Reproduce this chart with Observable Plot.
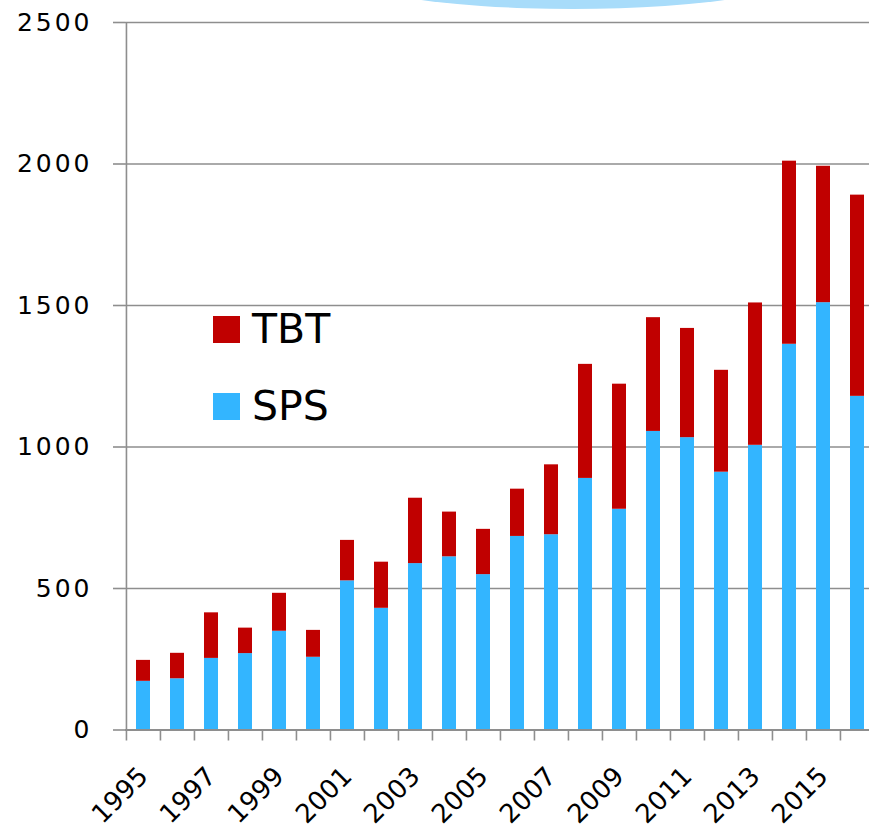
<!DOCTYPE html>
<html>
<head>
<meta charset="utf-8">
<script src="https://cdn.jsdelivr.net/npm/d3@7"></script>
<script src="https://cdn.jsdelivr.net/npm/@observablehq/plot@0.6"></script>
<style>
  html, body { margin: 0; padding: 0; background: #fff; }
  #wrap { position: relative; width: 869px; height: 832px; overflow: hidden; font-family: "DejaVu Sans", sans-serif; }
  #arc { position: absolute; left: 333px; top: -71px; width: 480px; height: 80px; border-radius: 50%; background: #a8dcfa; }
  #chart { position: absolute; left: 0; top: 0; }
  .lg { position: absolute; left: 213px; display: flex; align-items: center; font-size: 41px; color: #000; }
  .lg .sw { width: 27px; height: 27px; margin-right: 12px; }
  [aria-label="y-axis tick label"] text { letter-spacing: 3px; font-size: 25px; }
  [aria-label="x-axis tick label"] text { font-size: 26px; }
</style>
</head>
<body>
<div id="wrap">
  <div id="arc"></div>
  <div id="chart"></div>
  <div class="lg" id="lgTBT" style="top:305px"><div class="sw"></div><span></span></div>
  <div class="lg" id="lgSPS" style="top:382px"><div class="sw"></div><span></span></div>
</div>
<script>
const years = [1995,1996,1997,1998,1999,2000,2001,2002,2003,2004,2005,2006,2007,2008,2009,2010,2011,2012,2013,2014,2015,2016];
const sps = [172,181,253,270,349,257,527,430,588,612,549,684,690,889,780,1055,1033,911,1006,1363,1510,1179];
const tbt = [74,90,161,90,134,95,143,163,231,158,160,167,247,403,442,402,386,360,503,647,482,711];
const seriesNames = ["TBT", "SPS"];
const seriesColors = ["#c00000", "#33b5ff"];
const yTicks = [0, 500, 1000, 1500, 2000, 2500];
const labelYears = years.filter((d, i) => i % 2 === 0);

const rows = [];
years.forEach((y, i) => {
  rows.push({year: y, series: "SPS", value: sps[i]});
  rows.push({year: y, series: "TBT", value: tbt[i]});
});

const W = 869, H = 832;
const mL = 125, mR = -6, mT = 22, mB = 102.5;
const step = (W - mR - mL) / years.length;
const gray = "#8e8e8e";
const fmt = d => String(d);

const chart = Plot.plot({
  width: W,
  height: H,
  marginLeft: mL,
  marginRight: mR,
  marginTop: mT,
  marginBottom: mB,
  style: {fontFamily: "DejaVu Sans, sans-serif", background: "transparent", overflow: "visible"},
  x: {type: "band", domain: years, paddingInner: 0.6, paddingOuter: 0.3, label: null},
  y: {domain: [0, 2500], label: null},
  color: {domain: seriesNames, range: seriesColors},
  marks: [
    Plot.gridY(yTicks, {stroke: gray, strokeOpacity: 1, strokeWidth: 1.6}),
    Plot.axisY(yTicks, {tickSize: 12, tickPadding: 21, stroke: gray, strokeWidth: 1.6, fontSize: 25, fill: "#000", tickFormat: fmt, label: null}),
    Plot.barY(rows, {x: "year", y: "value", fill: "series", order: null}),
    Plot.ruleY([0], {stroke: gray, strokeWidth: 1.8}),
    Plot.ruleX([years[0]], {y1: 0, y2: 2500, stroke: gray, strokeWidth: 1.6, dx: -step / 2}),
    Plot.axisX({tickSize: 11, stroke: gray, strokeWidth: 1.6, dx: -step / 2, tickFormat: () => "", label: null}),
    Plot.axisX(labelYears, {tickSize: 0, tickPadding: 42, tickRotate: -45, dx: 0, fontSize: 26, fill: "#000", tickFormat: fmt, label: null})
  ]
});
document.getElementById("chart").appendChild(chart);

// legend
[["lgTBT", 0], ["lgSPS", 1]].forEach(([id, i]) => {
  const el = document.getElementById(id);
  el.querySelector(".sw").style.background = seriesColors[i];
  el.querySelector("span").textContent = seriesNames[i];
});
</script>
</body>
</html>
